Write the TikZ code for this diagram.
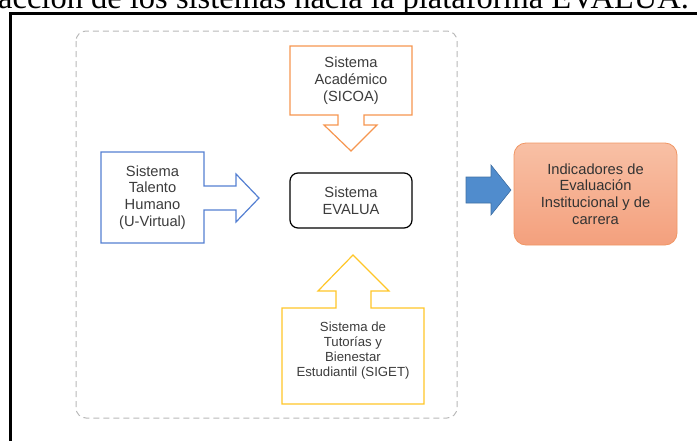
\documentclass[tikz,border=0pt]{standalone}
\usepackage{fontspec}
\setmainfont{Liberation Serif}
\newfontfamily\cajafont{Liberation Sans}
\definecolor{sicoa}{RGB}{246,150,80}
\definecolor{uvirtual}{RGB}{85,128,210}
\definecolor{siget}{RGB}{255,198,40}
\definecolor{flecha}{RGB}{80,140,205}
\definecolor{indarriba}{RGB}{248,192,165}
\definecolor{indabajo}{RGB}{244,160,125}
\definecolor{indborde}{RGB}{240,150,100}
\definecolor{texto}{RGB}{60,60,60}

\begin{document}
\begin{tikzpicture}[x=1pt,y=-1pt]
      \tikzset{
        every node/.style={font=\cajafont\fontsize{14.7}{16.7}\selectfont,text=texto,align=center,inner sep=0pt},
        llamada/.style={line width=1.2pt,line join=miter,fill=white}
      }
      \useasboundingbox (0,0) rectangle (697,440);
      \clip (0,0) rectangle (697,440);

      % titulo cortado arriba
      \node[anchor=base west,text=black,font=\rmfamily\fontsize{32.5}{36}\selectfont] (titulo) at (-2,8) {acción de los sistemas hacia la plataforma EVALUA.};

      % marco
      \draw[line width=3.5pt] (10.5,445) -- (10.5,13.5) -- (705,13.5);

      % contenedor
      \draw[gray!55,line width=1pt,dash pattern=on 6pt off 4pt,rounded corners=10pt] (76,31) rectangle (457,418);

      % sistemas
      \draw[llamada,draw=sicoa] (290,46) -- (412,46) -- (412,115) -- (364,115) -- (364,125) -- (377,125) -- (351,151)
            -- (324,125) -- (338,125) -- (338,115) -- (290,115) -- cycle;
      \node (sicoa) at (351,80.5) {Sistema\\Académico\\(SICOA)};

      \draw[llamada,draw=uvirtual] (101,152) -- (204,152) -- (204,186) -- (236,186) -- (236,174) -- (259,198)
            -- (236,222) -- (236,210) -- (204,210) -- (204,243) -- (101,243) -- cycle;
      \node (uvirtual) at (152.5,197.5) {Sistema\\Talento\\Humano\\(U-Virtual)};

      \draw[llamada,draw=siget] (282,308) -- (336,308) -- (336,291) -- (318,291) -- (353,255) -- (389,291)
            -- (371,291) -- (371,308) -- (424,308) -- (424,404) -- (282,404) -- cycle;
      \node[font=\cajafont\fontsize{13.2}{15}\selectfont] (siget) at (353,351) {Sistema de\\Tutorías y\\Bienestar\\Estudiantil (SIGET)};

      \node[draw=black,line width=1.2pt,rounded corners=8pt,minimum width=122pt,minimum height=55pt] (evalua) at (351,200.5) {Sistema\\EVALUA};

      % salida
      \draw[fill=flecha,draw=flecha!80!black,line width=0.6pt] (466,177) -- (491,177) -- (491,165) -- (511,190)
            -- (491,215) -- (491,203) -- (466,203) -- cycle;
      \node[draw=indborde,line width=0.8pt,rounded corners=12pt,top color=indarriba,bottom color=indabajo,
            minimum width=163pt,minimum height=102pt,text=black!80] (indicadores) at (595.5,194)
            {Indicadores de\\Evaluación\\Institucional y de\\carrera};
    \end{tikzpicture}
\end{document}
